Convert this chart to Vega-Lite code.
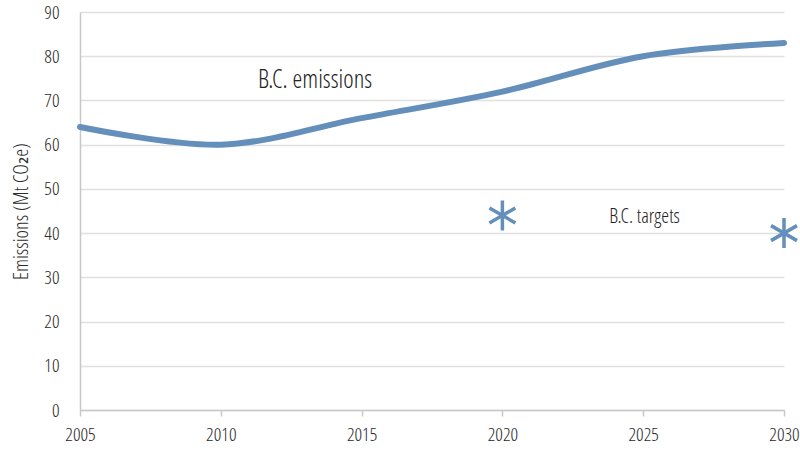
{
  "$schema": "https://vega.github.io/schema/vega-lite/v6.json",
  "width": 704,
  "height": 398,
  "autosize": {"type": "none"},
  "padding": {"left": 80, "top": 12, "right": 16, "bottom": 40},
  "background": "white",
  "config": {
    "font": "Open Sans Condensed Light, DejaVu Sans Condensed, sans-serif",
    "view": {"stroke": null},
    "axis": {
      "labelColor": "#2b2b2b",
      "titleColor": "#2b2b2b",
      "labelFontSize": 19,
      "titleFontSize": 20.5,
      "titleFontWeight": "normal",
      "gridColor": "#e0e0e0",
      "gridWidth": 1.5,
      "domainColor": "#c8c8c8",
      "domainWidth": 1.5,
      "tickColor": "#c8c8c8",
      "tickWidth": 1.5
    }
  },
  "datasets": {
    "emissions": [
      {"year": 2005, "mt": 64},
      {"year": 2010, "mt": 60},
      {"year": 2015, "mt": 66},
      {"year": 2020, "mt": 72},
      {"year": 2025, "mt": 80},
      {"year": 2030, "mt": 83}
    ],
    "targets": [
      {"year": 2020, "mt": 44},
      {"year": 2030, "mt": 40}
    ],
    "labels": [
      {"year": 2013.35, "mt": 74.6, "text": "B.C. emissions", "kind": "big"},
      {"year": 2025.05, "mt": 43.6, "text": "B.C. targets", "kind": "small"}
    ]
  },
  "layer": [
    {
      "data": {"name": "emissions"},
      "mark": {"type": "line", "interpolate": "catmull-rom", "color": "#658fbb", "strokeWidth": 6, "strokeCap": "round", "clip": false},
      "encoding": {
        "x": {
          "field": "year", "type": "quantitative",
          "scale": {"domain": [2005, 2030], "nice": false, "zero": false},
          "axis": {"title": null, "values": [2005, 2010, 2015, 2020, 2025, 2030], "format": "d", "grid": false, "tickSize": 6, "labelPadding": 9, "labelFlush": false, "labelOverlap": false}
        },
        "y": {
          "field": "mt", "type": "quantitative",
          "scale": {"domain": [0, 90], "nice": false},
          "axis": {"title": "Emissions (Mt CO₂e)", "values": [0, 10, 20, 30, 40, 50, 60, 70, 80, 90], "ticks": false, "labelPadding": 21, "titlePadding": 12}
        }
      }
    },
    {
      "data": {"name": "targets"},
      "mark": {"type": "point", "shape": "M0,-1L0,1M-0.866,-0.5L0.866,0.5M-0.866,0.5L0.866,-0.5", "filled": false, "color": "#658fbb", "strokeWidth": 3.5, "size": 900, "opacity": 1, "clip": false},
      "encoding": {
        "x": {"field": "year", "type": "quantitative"},
        "y": {"field": "mt", "type": "quantitative"}
      }
    },
    {
      "data": {"name": "labels"},
      "mark": {"type": "text", "color": "#222222", "align": "center", "baseline": "middle"},
      "encoding": {
        "x": {"field": "year", "type": "quantitative"},
        "y": {"field": "mt", "type": "quantitative"},
        "text": {"field": "text"},
        "size": {"field": "kind", "type": "nominal", "scale": {"domain": ["big", "small"], "range": [25, 20]}, "legend": null}
      }
    }
  ]
}
